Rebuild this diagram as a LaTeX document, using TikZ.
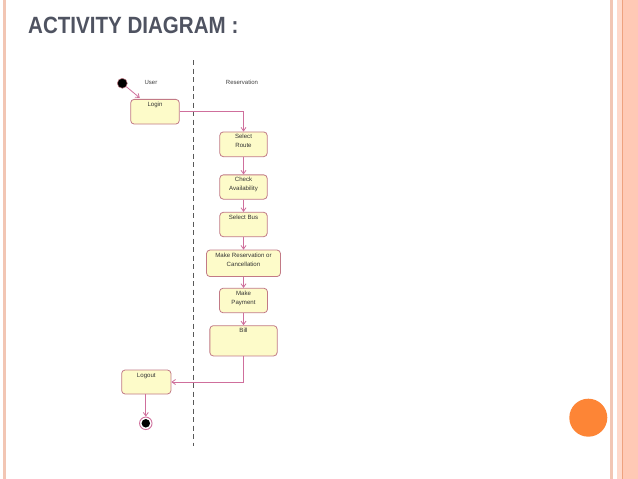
\documentclass[tikz,border=0pt]{standalone}
\usepackage{fontspec}
\setmainfont{Liberation Sans}
\usetikzlibrary{arrows.meta,calc}
\definecolor{boxfill}{HTML}{FDFBC9}
\definecolor{boxline}{HTML}{C27A86}
\definecolor{flowc}{HTML}{CF6F9C}
\definecolor{titlec}{HTML}{4F5361}
\definecolor{bordc}{HTML}{F2C6B4}
\definecolor{stripec}{HTML}{FFC9B5}
\definecolor{stripel}{HTML}{EFA27E}
\definecolor{orangec}{HTML}{FD8536}
\tikzset{
  act/.style={draw=boxline, fill=boxfill, rounded corners=3.5pt, line width=0.8pt, inner sep=0pt,
    font=\fontsize{6.1}{9}\selectfont, text=black!80},
  flow/.style={draw=flowc, line width=0.8pt, -{Straight Barb[length=3.5pt,width=5pt]}},
  lane/.style={font=\fontsize{6}{7}\selectfont, text=black!75},
  swim/.style={draw=black!65, line width=0.7pt, dash pattern=on 5pt off 3.5pt}
}
\newcommand\actbox[6]{\node[act] (#1) at (#2,#3) {\parbox[c][#5pt][t]{#4pt}{\centering\rule{0pt}{7pt}#6}};}
\begin{document}
\begin{tikzpicture}[x=1pt,y=-1pt]
\useasboundingbox (0,0) rectangle (638,479);
\fill[white] (0,0) rectangle (638,479);
% slide borders
\fill[bordc] (3.3,0) rectangle (6.2,479);
\fill[bordc] (610,0) rectangle (612.7,479);
\fill[stripec!70] (617.3,0) rectangle (622,479);
\fill[stripel] (622,0) rectangle (623.3,479);
\fill[stripec] (623.3,0) rectangle (638,479);
% title
\node[anchor=base west, inner sep=0pt, text=titlec, font=\fontsize{23.5}{26}\selectfont\bfseries] (title) at (28,33) {\scalebox{0.875}[1]{ACTIVITY DIAGRAM :}};
% swimlane divider
\coordinate (laneTop) at (193,60);
\coordinate (laneBot) at (193,446);
\draw[swim] (laneTop) -- (laneBot);
\node[lane] (user) at (151,82) {User};
\node[lane] (resv) at (242,82) {Reservation};
% start / end
\node[circle, fill=black, draw=boxline, line width=0.5pt, minimum size=10pt, inner sep=0pt] (start) at (122.3,83.3) {};
\node[circle, draw=flowc, line width=0.9pt, fill=white, minimum size=12.5pt, inner sep=0pt] (endo) at (145.8,423.3) {};
\node[circle, fill=black, minimum size=8.5pt, inner sep=0pt] (end) at (145.8,423.3) {};
% activities
\actbox{login}{155}{111.7}{48.6}{24.7}{Login}
\actbox{route}{243.5}{144.3}{47.4}{24.7}{Select\\Route}
\actbox{check}{243.5}{187}{47.4}{24.3}{Check\\Availability}
\actbox{bus}{243.5}{224.5}{47.4}{24.4}{Select Bus}
\actbox{res}{243.5}{263.3}{74}{26.5}{Make Reservation or\\Cancellation}
\actbox{pay}{243.5}{300.5}{48}{24.4}{Make\\Payment}
\actbox{bill}{243.5}{340.8}{67.3}{30.3}{Bill}
\actbox{logout}{146.3}{382}{49.3}{24}{Logout}
% flows
\draw[flow] (start) -- ($(login.north west)+(9.5,-1)$);
\draw[flow] (login.east) -| (route.north);
\draw[flow] (route) -- (check);
\draw[flow] (check) -- (bus);
\draw[flow] (bus) -- (res);
\draw[flow] (res) -- (pay);
\draw[flow] (pay) -- (bill);
\draw[flow] (bill.south) |- (logout.east);
\draw[flow] (logout.south -| endo) -- (endo);
% decoration
\fill[orangec] (588.3,417.7) circle (19);
\end{tikzpicture}
\end{document}
